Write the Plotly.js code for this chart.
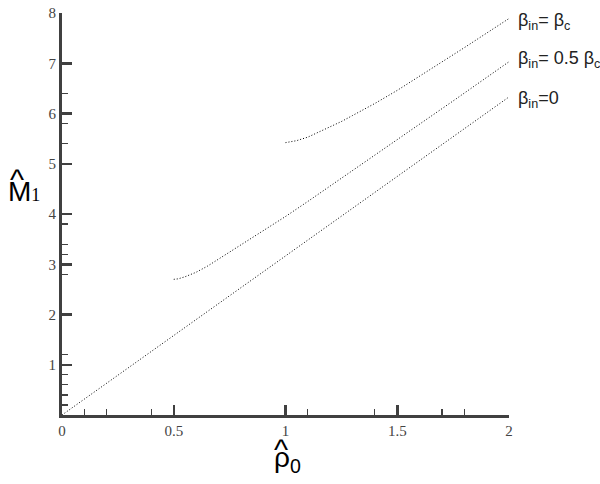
<!DOCTYPE html>
<html>
<head>
<meta charset="utf-8">
<script src="https://cdn.plot.ly/plotly-3.0.1.min.js"></script>
<style>html,body{margin:0;padding:0;background:#fff;}#chart{width:600px;height:484px;}</style>
</head>
<body>
<div id="chart"></div>
<script>
// Data
const rhoBeta0 = [0, 0.5, 1.0, 1.5, 2.0];
const mBeta0   = [0, 1.58, 3.17, 4.75, 6.33];

const rhoBetaHalf = [0.5, 0.52, 0.55, 0.6, 0.65, 0.7, 0.75, 0.8, 0.9, 1.0, 1.1, 1.25, 1.5, 1.75, 2.0];
const mBetaHalf   = [2.70, 2.71, 2.75, 2.84, 2.96, 3.10, 3.25, 3.39, 3.66, 3.95, 4.25, 4.71, 5.47, 6.25, 7.03];

const rhoBetaC = [1.0, 1.05, 1.1, 1.15, 1.2, 1.25, 1.3, 1.4, 1.5, 1.6, 1.7, 1.8, 1.9, 2.0];
const mBetaC   = [5.42, 5.46, 5.53, 5.63, 5.74, 5.84, 5.96, 6.20, 6.46, 6.74, 7.02, 7.31, 7.60, 7.89];

const xTickVals = [0, 0.5, 1, 1.5, 2];
const xTickText = ['0', '0.5', '1', '1.5', '2'];
const xMinorVals = [0.1, 0.2, 0.4, 1.1, 1.4, 1.7, 1.8];
const yTickVals = [1, 2, 3, 4, 5, 6, 7, 8];
const yTickText = ['1', '2', '3', '4', '5', '6', '7', '8'];
const yMinorVals = [0.2, 0.4, 0.6, 0.8, 1.2, 2.8, 3.2, 3.4, 3.8, 5.4, 5.8, 6.4];

const seriesLabels = ['β<sub>in</sub>= β<sub>c</sub>', 'β<sub>in</sub>= 0.5 β<sub>c</sub>', 'β<sub>in</sub>=0'];

const lineStyle = {color: '#000', width: 1, dash: '1px,2px'};
const traces = [
  {x: rhoBeta0, y: mBeta0, mode: 'lines', line: lineStyle, showlegend: false, hoverinfo: 'skip'},
  {x: rhoBetaHalf, y: mBetaHalf, mode: 'lines', line: lineStyle, showlegend: false, hoverinfo: 'skip'},
  {x: rhoBetaC, y: mBetaC, mode: 'lines', line: lineStyle, showlegend: false, hoverinfo: 'skip'}
];

const axisColor = '#404040';
const tickFont = {family: 'Liberation Serif, Times New Roman, serif', size: 15, color: '#444'};
const labelFont = {family: 'Liberation Sans, Arial, sans-serif', size: 18, color: '#222'};

const layout = {
  width: 600, height: 484,
  margin: {l: 62, r: 91, t: 13, b: 69},
  paper_bgcolor: '#fff', plot_bgcolor: '#fff',
  showlegend: false,
  xaxis: {
    range: [0, 2], showgrid: false, zeroline: false,
    showline: true, linecolor: axisColor, linewidth: 3,
    ticks: 'inside', ticklen: 10, tickwidth: 2.5, tickcolor: axisColor,
    tickmode: 'array', tickvals: xTickVals, ticktext: xTickText,
    tickfont: tickFont,
    minor: {ticks: 'inside', ticklen: 6, tickwidth: 1.2, tickcolor: axisColor, tickmode: 'array', tickvals: xMinorVals, showgrid: false},
    fixedrange: true
  },
  yaxis: {
    range: [0, 8], showgrid: false, zeroline: false,
    showline: true, linecolor: axisColor, linewidth: 3,
    ticks: 'inside', ticklen: 10, tickwidth: 2.5, tickcolor: axisColor,
    tickmode: 'array', tickvals: yTickVals, ticktext: yTickText,
    tickfont: tickFont,
    minor: {ticks: 'inside', ticklen: 6, tickwidth: 1.2, tickcolor: axisColor, tickmode: 'array', tickvals: yMinorVals, showgrid: false},
    fixedrange: true
  },
  annotations: [
    // y-axis title  M̂1
    {xref: 'paper', yref: 'paper', x: -0.085, y: 0.555, xanchor: 'center', yanchor: 'middle', showarrow: false,
     text: 'M<span style="font-family:Liberation Serif;font-size:18px">1</span>',
     font: {family: 'Liberation Sans, Arial, sans-serif', size: 28, color: '#000'}},
    {xref: 'paper', yref: 'paper', x: -0.1, y: 0.585, xanchor: 'center', yanchor: 'middle', showarrow: false,
     text: '^', font: {family: 'Liberation Sans, Arial, sans-serif', size: 30, color: '#000'}},
    // x-axis title  ρ̂0
    {xref: 'paper', yref: 'paper', x: 0.505, y: -0.11, xanchor: 'center', yanchor: 'middle', showarrow: false,
     text: 'ρ<sub>0</sub>',
     font: {family: 'Liberation Sans, Arial, sans-serif', size: 28, color: '#000'}},
    {xref: 'paper', yref: 'paper', x: 0.49, y: -0.085, xanchor: 'center', yanchor: 'middle', showarrow: false,
     text: '^', font: {family: 'Liberation Sans, Arial, sans-serif', size: 30, color: '#000'}},
    // series labels
    {xref: 'paper', yref: 'paper', x: 1.015, y: 0.98, xanchor: 'left', yanchor: 'middle', showarrow: false, text: seriesLabels[0], font: labelFont},
    {xref: 'paper', yref: 'paper', x: 1.015, y: 0.885, xanchor: 'left', yanchor: 'middle', showarrow: false, text: seriesLabels[1], font: labelFont},
    {xref: 'paper', yref: 'paper', x: 1.015, y: 0.785, xanchor: 'left', yanchor: 'middle', showarrow: false, text: seriesLabels[2], font: labelFont}
  ]
};

Plotly.newPlot('chart', traces, layout, {displayModeBar: false, staticPlot: true});
</script>
</body>
</html>
